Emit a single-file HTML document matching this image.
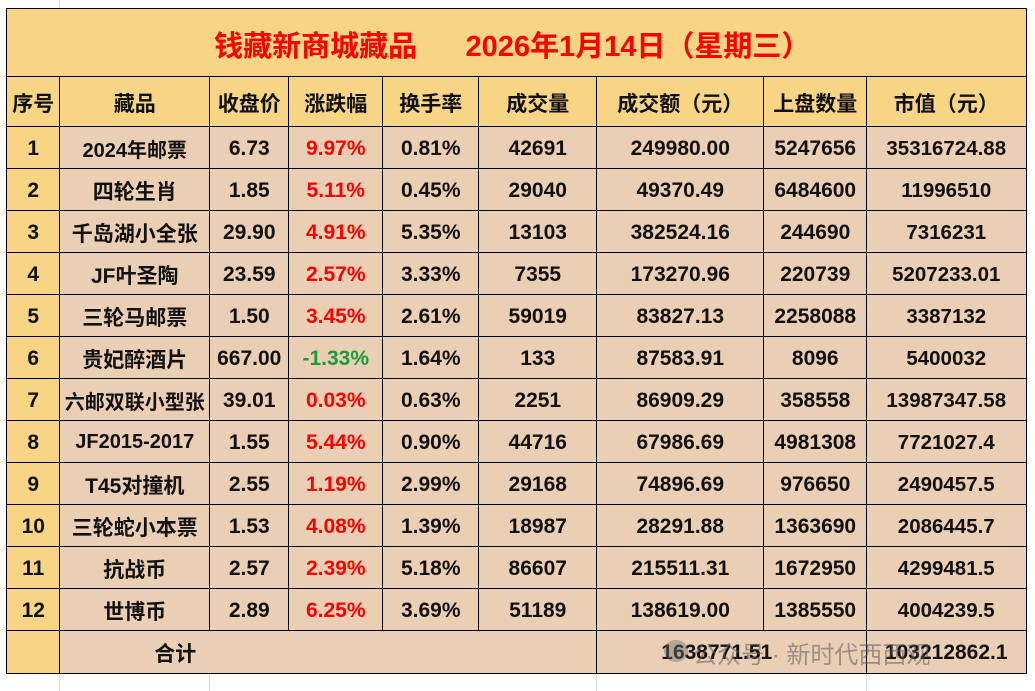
<!DOCTYPE html><html><head><meta charset="utf-8"><style>
body{margin:0;width:1035px;height:691px;background:#fff;position:relative;overflow:hidden;font-family:"Liberation Sans","Noto Sans CJK SC",sans-serif;font-weight:bold;}
.c{position:absolute;box-sizing:border-box;border:1.5px solid #000;display:flex;align-items:center;justify-content:center;font-size:21px;color:#111;padding-top:2px}
.y{background:#f7d584}.b{background:#ebcfb4}
.r{color:#f00}.g{color:#1a9c3a}
.gl{position:absolute;background:#dcdcdc}
</style></head><body>
<div class="gl" style="left:0;top:0;width:1px;height:691px;left:59px"></div>
<div class="gl" style="left:209px;top:672px;width:1px;height:19px"></div>
<div class="gl" style="left:596px;top:672px;width:1px;height:19px"></div>
<div class="gl" style="left:866px;top:672px;width:1px;height:19px"></div>
<div id="t"></div>
<script>
const X=[6,59,209,288,382,478,596,763,866,1025];
const rows=[
["1","2024年邮票","6.73","9.97%","0.81%","42691","249980.00","5247656","35316724.88"],
["2","四轮生肖","1.85","5.11%","0.45%","29040","49370.49","6484600","11996510"],
["3","千岛湖小全张","29.90","4.91%","5.35%","13103","382524.16","244690","7316231"],
["4","JF叶圣陶","23.59","2.57%","3.33%","7355","173270.96","220739","5207233.01"],
["5","三轮马邮票","1.50","3.45%","2.61%","59019","83827.13","2258088","3387132"],
["6","贵妃醉酒片","667.00","-1.33%","1.64%","133","87583.91","8096","5400032"],
["7","六邮双联小型张","39.01","0.03%","0.63%","2251","86909.29","358558","13987347.58"],
["8","JF2015-2017","1.55","5.44%","0.90%","44716","67986.69","4981308","7721027.4"],
["9","T45对撞机","2.55","1.19%","2.99%","29168","74896.69","976650","2490457.5"],
["10","三轮蛇小本票","1.53","4.08%","1.39%","18987","28291.88","1363690","2086445.7"],
["11","抗战币","2.57","2.39%","5.18%","86607","215511.31","1672950","4299481.5"],
["12","世博币","2.89","6.25%","3.69%","51189","138619.00","1385550","4004239.5"]];
const hdr=["序号","藏品","收盘价","涨跌幅","换手率","成交量","成交额（元）","上盘数量","市值（元）"];
let h='';
function cell(x1,x2,y1,y2,cls,txt,st){h+=`<div class="c ${cls}" style="left:${x1}px;top:${y1}px;width:${x2-x1+1.5}px;height:${y2-y1+1.5}px;${st||''}">${txt}</div>`;}
cell(6,1025,8,76,'y','<span style="color:#f00;font-size:29px;white-space:pre;margin-left:-8px">钱藏新商城藏品      2026年1月14日（星期三）</span>');
hdr.forEach((t,i)=>cell(X[i],X[i+1],76,126,'y',t,'font-size:21px'));
rows.forEach((r,j)=>{const y=126+j*42;r.forEach((t,i)=>{let cls=i==0?'y':'b';if(i==3)cls+=t[0]=='-'?' g':' r';cell(X[i],X[i+1],y,y+42,cls,t,i==8?'font-size:20.5px':(i==1&&t.length>6?'font-size:20px':''));});});
cell(6,59,630,672,'y','');
cell(59,596,630,672,'b','<span style="margin-left:-306px">合计</span>');
cell(596,866,630,672,'b','<span style="margin-left:-30px">1638771.51</span>');
cell(866,1025,630,672,'b','103212862.1');
h+='<div style="position:absolute;left:664px;top:640px;width:24px;height:22px;border-radius:50%;background:rgba(110,110,110,.45)"></div>';
h+='<div style="position:absolute;left:693px;top:635px;font-size:24px;font-weight:normal;color:rgba(90,90,90,.55);white-space:pre">公众号 · 新时代西西观</div>';
document.getElementById('t').innerHTML=h;
</script>
</body></html>
